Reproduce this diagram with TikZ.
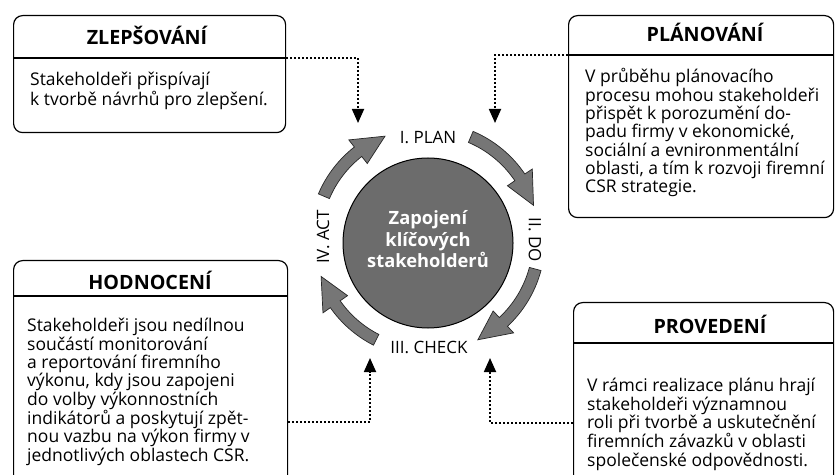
\documentclass[tikz,border=0pt]{standalone}
\usepackage{fontspec}
\setmainfont{Open Sans}
\usetikzlibrary{arrows.meta}
\definecolor{ringgray}{HTML}{767676}
\definecolor{discgray}{HTML}{6C6C6C}
\begin{document}
\begin{tikzpicture}[x=1pt,y=1pt,
  box/.style={draw=black, line width=1.2pt, rounded corners=9pt, inner sep=0pt, anchor=north west},
  hline/.style={line width=1.1pt},
  boxtitle/.style={font=\fontsize{19.7}{22}\selectfont\bfseries, anchor=base, inner sep=0pt},
  boxbody/.style={font=\fontsize{17.5}{18.3}\selectfont, align=left, anchor=base west, inner sep=0pt},
  conn/.style={line width=1.8pt, dash pattern=on 1.8pt off 2.2pt, -{Triangle[length=14pt,width=12pt]}},
  ringarrow/.style={fill=ringgray, draw=black!85, line width=0.7pt, line join=miter},
  cyclelabel/.style={font=\fontsize{17}{19}\selectfont, inner sep=0pt},
  disctext/.style={font=\fontsize{18.3}{21.5}\selectfont\bfseries, text=white, align=center, anchor=base, inner sep=0pt}]
\clip (0,0) rectangle (837,474);
\fill[white] (0,0) rectangle (837,474);

% boxes
\node[box, minimum width=272pt, minimum height=117pt] (zbox) at (13,459) {};
\node[box, minimum width=265pt, minimum height=202pt] (pbox) at (568,459) {};
\node[box, minimum width=274pt, minimum height=240pt] (hbox) at (13,214) {};
\node[box, minimum width=260pt, minimum height=200pt] (prbox) at (573,172) {};

% header lines
\coordinate (zhead) at (13,416);
\coordinate (phead) at (568,419);
\coordinate (hhead) at (13,178);
\coordinate (prhead) at (573,131);
\draw[hline] (zhead) -- (zhead -| zbox.east);
\draw[hline] (phead) -- (phead -| pbox.east);
\draw[hline] (hhead) -- (hhead -| hbox.east);
\draw[hline] (prhead) -- (prhead -| prbox.east);

% titles
\node[boxtitle] (ztitle) at (147,429) {ZLEPŠOVÁNÍ};
\node[boxtitle] (ptitle) at (705,432) {PLÁNOVÁNÍ};
\node[boxtitle] (htitle) at (150,184) {HODNOCENÍ};
\node[boxtitle] (prtitle) at (710,141) {PROVEDENÍ};

% bodies (anchored at the baseline of the last line)
\node[boxbody] (ztext) at (30,368.7) {Stakeholdeři přispívají\\k tvorbě návrhů pro zlepšení.};
\node[boxbody] (ptext) at (585,281.2) {V průběhu plánovacího\\procesu mohou stakeholdeři\\přispět k porozumění do-\\padu firmy v ekonomické,\\sociální a evnironmentální\\oblasti, a tím k rozvoji firemní\\CSR strategie.};
\node[boxbody] (htext) at (27,12.9) {Stakeholdeři jsou nedílnou\\součástí monitorování\\a reportování firemního\\výkonu, kdy jsou zapojeni\\do volby výkonnostních\\indikátorů a poskytují zpět-\\nou vazbu na výkon firmy v\\jednotlivých oblastech CSR.};
\node[boxbody] (prtext) at (587,7.8) {V rámci realizace plánu hrají\\stakeholdeři významnou\\roli při tvorbě a uskutečnění\\firemních závazků v oblasti\\společenské odpovědnosti.};

% central disc
\node[circle, fill=discgray, draw=black, line width=1pt, minimum size=170pt, inner sep=0pt] (disc) at (428,231) {};
\node[disctext] (disclabel) at (428,206) {Zapojení\\klíčových\\stakeholderů};

% ring arrows
\coordinate (ring) at (427,234);
\foreach \a/\b in {67/18, -15/-63, -117/-161, 157/112} {
  \pgfmathsetmacro\c{\b+16}
  \filldraw[ringarrow] ([shift={(\a:118)}]ring) arc[start angle=\a, end angle=\c, radius=118]
     -- ([shift={(\c:127)}]ring) -- ([shift={(\b:112)}]ring) -- ([shift={(\c:97)}]ring)
     -- ([shift={(\c:106)}]ring) arc[start angle=\c, end angle=\a, radius=106] -- cycle;
}

% cycle labels
\node[cyclelabel, anchor=base] (plan) at (428,330.5) {I. PLAN};
\node[cyclelabel, anchor=base] (check) at (429,121) {III. CHECK};
\node[cyclelabel, rotate=-90] (do) at (535,234) {II. DO};
\node[cyclelabel, rotate=90] (act) at (323,237) {IV. ACT};

% dotted connectors
\coordinate (plantipL) at (358,351);
\coordinate (plantipR) at (495,351);
\coordinate (checktipL) at (370,116);
\coordinate (checktipR) at (490,116);
\coordinate (hconn) at (13,52);
\coordinate (prconn) at (573,51);
\draw[conn] (zhead -| zbox.east) -| (plantipL);
\draw[conn] (phead) -| (plantipR);
\draw[conn] (hconn -| hbox.east) -| (checktipL);
\draw[conn] (prconn) -| (checktipR);
\end{tikzpicture}
\end{document}
